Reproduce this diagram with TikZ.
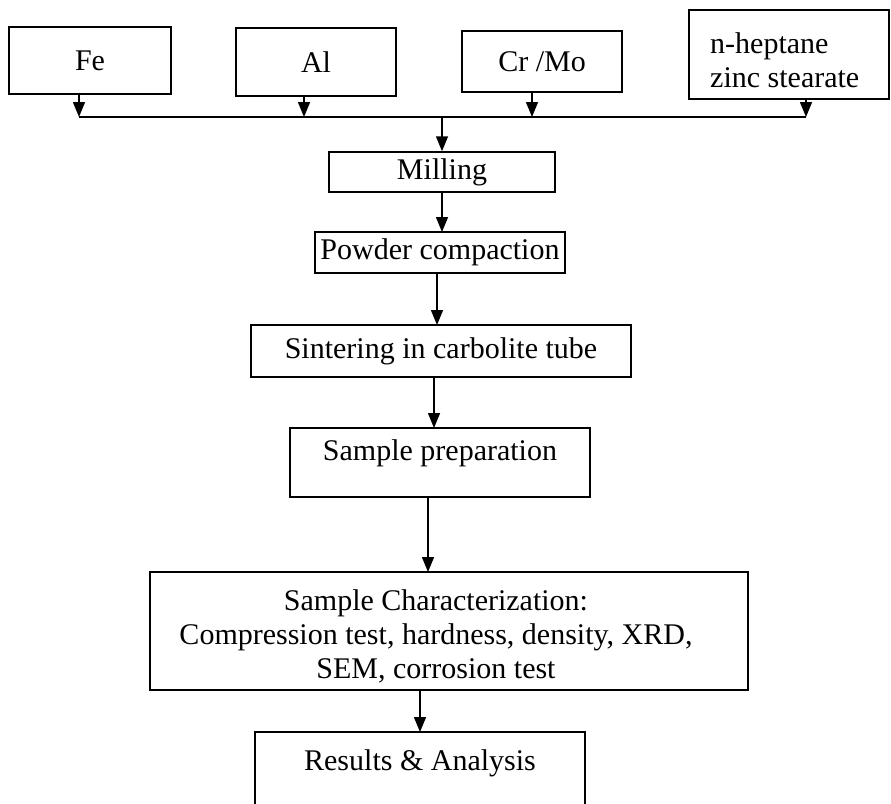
\documentclass[tikz,border=0pt]{standalone}
\usepackage{fontspec}
\setmainfont{Liberation Serif}
\usetikzlibrary{arrows.meta}
\begin{document}
\begin{tikzpicture}[x=1pt,y=-1pt,
  box/.style={draw,line width=1.5pt,inner sep=0pt,font=\fontsize{30}{34}\selectfont},
  txt/.style={inner sep=0pt,font=\fontsize{30}{34}\selectfont,align=center},
  arr/.style={line width=1.5pt,-{Triangle[length=15pt,width=12pt]}},
  ln/.style={line width=1.5pt}]
\clip (0,0) rectangle (891,803);
\fill[white] (0,0) rectangle (891,803);
% top row
\node[box,minimum width=162pt,minimum height=67pt] (fe) at (90,60.5) {Fe};
\node[box,minimum width=160pt,minimum height=68pt] (al) at (316,62) {Al};
\node[box,minimum width=160pt,minimum height=61pt] (cr) at (542,61.5) {Cr /Mo};
\node[box,minimum width=200pt,minimum height=89pt] (hep) at (789,54.5) {};
\node[txt,align=left,anchor=west] (heptxt) at (710,60) {n-heptane\\zinc stearate};
% collector line
\coordinate (lL) at (79,117);
\coordinate (lR) at (806,117);
\coordinate (lC) at (442,117);
\draw[ln] (lL) -- (lR);
\draw[arr] (fe.south -| lL) -- (lL);
\draw[arr] (al.south -| 304,0) -- (304,117);
\draw[arr] (cr.south -| 532,0) -- (532,117);
\draw[arr] (hep.south -| lR) -- (lR);
% chain
\node[box,minimum width=226pt,minimum height=40pt] (mill) at (442,172) {Milling};
\node[box,minimum width=250pt,minimum height=41pt] (powder) at (440,252.5) {Powder compaction};
\node[box,minimum width=380pt,minimum height=52pt] (sint) at (441,351) {Sintering in carbolite tube};
\node[box,minimum width=300pt,minimum height=69pt] (prep) at (440,462.5) {};
\node[txt] (preptxt) at (440,453) {Sample preparation};
\node[box,minimum width=598pt,minimum height=118pt] (char) at (449,631) {};
\node[txt] (chartxt) at (436,636) {Sample Characterization:\\Compression test, hardness, density, XRD,\\SEM, corrosion test};
\node[box,minimum width=330pt,minimum height=100pt] (res) at (420,782) {};
\node[txt] (restxt) at (420,763) {Results \& Analysis};
\draw[arr] (lC) -- (lC |- mill.north);
\draw[arr] (mill.south -| 442,0) -- (442,232);
\draw[arr] (powder.south -| 437,0) -- (437,325);
\draw[arr] (sint.south -| 434,0) -- (434,428);
\draw[arr] (prep.south -| 428,0) -- (428,572);
\draw[arr] (char.south -| 420,0) -- (420,732);
\end{tikzpicture}
\end{document}
